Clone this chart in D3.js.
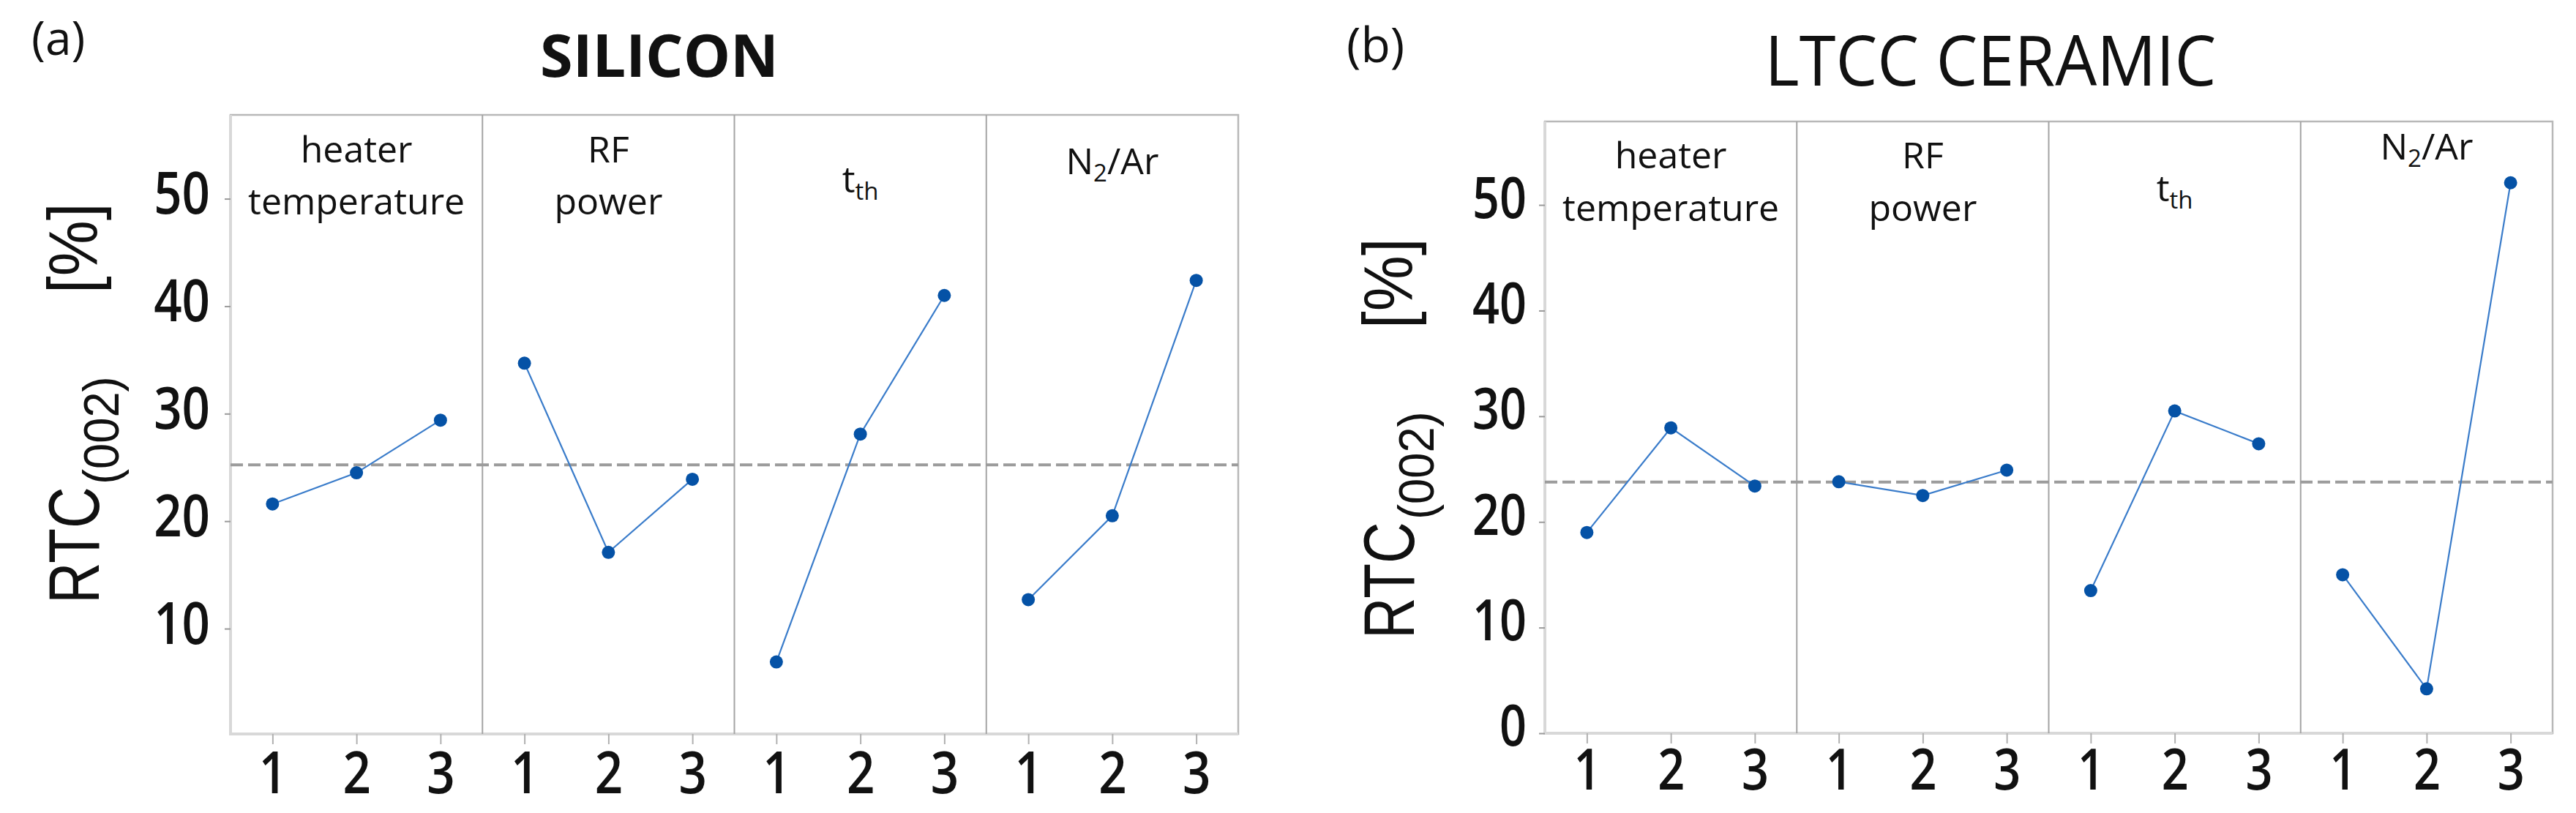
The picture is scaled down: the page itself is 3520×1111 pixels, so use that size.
<!DOCTYPE html>
<html>
<head>
<meta charset="utf-8">
<script src="https://cdn.jsdelivr.net/npm/d3@7"></script>
<style>
  body { margin: 0; background: #fff; }
  svg { display: block; }
</style>
</head>
<body>
<div id="chart"></div>
<script>
// Factor levels shown on every panel
const levels = [1, 2, 3];

// RTC(002) [%] main effects, SILICON substrate
const siliconHeater = [21.6, 24.5, 29.4];
const siliconRF = [34.7, 17.1, 23.9];
const siliconTth = [6.9, 28.1, 41.0];
const siliconN2Ar = [12.7, 20.5, 42.4];

// RTC(002) [%] main effects, LTCC CERAMIC substrate
const ceramicHeater = [19.0, 28.9, 23.4];
const ceramicRF = [23.8, 22.5, 24.9];
const ceramicTth = [13.5, 30.5, 27.4];
const ceramicN2Ar = [15.0, 4.2, 52.1];

// y tick labels
const siliconTicks = [10, 20, 30, 40, 50];
const ceramicTicks = [0, 10, 20, 30, 40, 50];

// strip labels: lines of [text, isSubscript] pieces
const factorLabels = [
    [[["heater", false]], [["temperature", false]]],
    [[["RF", false]], [["power", false]]],
    [[["t", false], ["th", true]]],
    [[["N", false], ["2", true], ["/Ar", false]]]
];

const width = 3520;
const height = 1111;
const dotColor = "#0552a6";
const lineColor = "#3a7cca";
const textColor = "#111";

const svg = d3
    .select("#chart")
    .append("svg")
    .attr("width", width)
    .attr("height", height);

// layout of the two charts
const panels = [
    {
        tag: "(a)", tagX: 43, tagY: 75, tagSize: 64,
        title: "SILICON", titleX: 901, titleY: 105, titleSize: 81, titleWeight: 700, titleScale: 1,
        left: 315, right: 1692, top: 157, bottom: 1003, domain: [0.2, 57.8],
        ticks: siliconTicks, tickSize: 80, tickGap: 28, tickDy: "0.25em", xLabelGap: 10,
        series: [siliconHeater, siliconRF, siliconTth, siliconN2Ar],
        labelY: [[65, 136], [65, 136], [106], [81]],
        dx: 0, dy: 0
    },
    {
        tag: "(b)", tagX: 1840, tagY: 85, tagSize: 66,
        title: "LTCC CERAMIC", titleX: 2720, titleY: 117, titleSize: 96, titleWeight: 500, titleScale: 0.94,
        left: 2111, right: 3488, top: 166, bottom: 1002, domain: [0, 57.9],
        ticks: ceramicTicks, tickSize: 77, tickGap: 25, tickDy: "0.22em", xLabelGap: 8,
        series: [ceramicHeater, ceramicRF, ceramicTth, ceramicN2Ar],
        labelY: [[64, 136], [64, 136], [109], [52]],
        dx: 1797, dy: 48
    }
];

panels.forEach(drawPanel);

function drawPanel(p) {
    const g = svg.append("g");

    const y = d3.scaleLinear().domain(p.domain).range([p.bottom, p.top]);
    const facet = d3
        .scaleBand()
        .domain(d3.range(p.series.length))
        .range([p.left, p.right]);
    const x = d3.scaleLinear().domain([0.5, 3.5]).range([0, facet.bandwidth()]);

    // panel tag and title
    g.append("text")
        .attr("x", p.tagX)
        .attr("y", p.tagY)
        .attr("font-family", "'Open Sans', sans-serif")
        .attr("font-size", p.tagSize)
        .attr("fill", textColor)
        .text(p.tag);

    g.append("text")
        .attr("transform", `translate(${p.titleX},${p.titleY}) scale(${p.titleScale},1)`)
        .attr("text-anchor", "middle")
        .attr("font-family", "'Open Sans', sans-serif")
        .attr("font-weight", p.titleWeight)
        .attr("font-size", p.titleSize)
        .attr("fill", textColor)
        .text(p.title);

    // frame
    g.append("rect")
        .attr("x", p.left)
        .attr("y", p.top)
        .attr("width", p.right - p.left)
        .attr("height", p.bottom - p.top)
        .attr("fill", "none")
        .attr("stroke", "#b8b8b8")
        .attr("stroke-width", 2.5);

    g.append("path")
        .attr("d", `M${p.left},${p.top}V${p.bottom}H${p.right}`)
        .attr("fill", "none")
        .attr("stroke", "#d8d8d8")
        .attr("stroke-width", 4);

    // facet dividers
    g.selectAll(".divider")
        .data(d3.range(1, p.series.length))
        .join("line")
        .attr("class", "divider")
        .attr("x1", (i) => facet(i))
        .attr("x2", (i) => facet(i))
        .attr("y1", p.top)
        .attr("y2", p.bottom)
        .attr("stroke", "#a4a4a4")
        .attr("stroke-width", 2);

    // y axis
    const sx = 0.84;
    g.append("g")
        .attr("transform", `translate(${p.left},0)`)
        .call(d3.axisLeft(y).tickValues(p.ticks).tickSize(8))
        .call((a) => a.select(".domain").remove())
        .call((a) => a.selectAll("line").attr("stroke", "#9a9a9a").attr("stroke-width", 2))
        .call((a) =>
            a.selectAll("text")
                .attr("x", -p.tickGap / sx)
                .attr("dy", p.tickDy)
                .attr("transform", `scale(${sx},1)`)
                .attr("font-family", "'Open Sans', sans-serif")
                .attr("font-weight", 600)
                .attr("font-size", p.tickSize)
                .attr("fill", textColor)
        );

    // x axis per facet
    p.series.forEach((values, i) => {
        g.append("g")
            .attr("transform", `translate(${facet(i)},${p.bottom})`)
            .call(d3.axisBottom(x).tickValues(levels).tickFormat(d3.format("d")).tickSize(14).tickPadding(p.xLabelGap))
            .call((a) => a.select(".domain").remove())
            .call((a) => a.selectAll("line").attr("stroke", "#b0b0b0").attr("stroke-width", 2))
            .call((a) =>
                a.selectAll("text")
                    .attr("transform", `scale(${sx},1)`)
                    .attr("font-family", "'Open Sans', sans-serif")
                    .attr("font-weight", 600)
                    .attr("font-size", p.tickSize)
                    .attr("fill", textColor)
            );
    });

    // grand mean reference line
    const mean = d3.mean(p.series.flat());
    g.append("line")
        .attr("x1", p.left)
        .attr("x2", p.right)
        .attr("y1", y(mean))
        .attr("y2", y(mean))
        .attr("stroke", "#9c9c9c")
        .attr("stroke-width", 4)
        .attr("stroke-dasharray", "17,7");

    // main effect lines and points
    const line = d3
        .line()
        .x((d, j) => x(levels[j]))
        .y((d) => y(d));

    p.series.forEach((values, i) => {
        const f = g.append("g").attr("transform", `translate(${facet(i)},0)`);

        f.append("path")
            .datum(values)
            .attr("d", line)
            .attr("fill", "none")
            .attr("stroke", lineColor)
            .attr("stroke-width", 2.2);

        f.selectAll("circle")
            .data(values)
            .join("circle")
            .attr("cx", (d, j) => x(levels[j]))
            .attr("cy", (d) => y(d))
            .attr("r", 9)
            .attr("fill", dotColor);

        // strip label
        factorLabels[i].forEach((pieces, k) => {
            const t = f.append("text")
                .attr("x", facet.bandwidth() / 2)
                .attr("y", p.top + p.labelY[i][k])
                .attr("text-anchor", "middle")
                .attr("font-family", "'Open Sans', sans-serif")
                .attr("font-size", 50)
                .attr("fill", textColor);
            let shifted = false;
            pieces.forEach(([txt, sub]) => {
                const s = t.append("tspan").text(txt);
                if (sub) {
                    s.attr("font-size", 33).attr("dy", 10);
                    shifted = true;
                } else if (shifted) {
                    s.attr("dy", -10);
                    shifted = false;
                }
            });
        });
    });

    // rotated y axis title: RTC(002) [%]
    const yTitle = [
        { txt: "RTC", size: 98, base: 135, end: 825, scale: 0.8 },
        { txt: "(002)", size: 68, base: 162, end: 662, scale: 0.93 },
        { txt: "[%]", size: 94, base: 132, end: 401, scale: 0.91 }
    ];
    yTitle.forEach((d) => {
        g.append("text")
            .attr("transform", `translate(${d.base + p.dx},${d.end + p.dy}) rotate(-90) scale(${d.scale},1)`)
            .attr("font-family", "'Liberation Sans', Arial, sans-serif")
            .attr("font-size", d.size)
            .attr("fill", textColor)
            .text(d.txt);
    });
}
</script>
</body>
</html>
